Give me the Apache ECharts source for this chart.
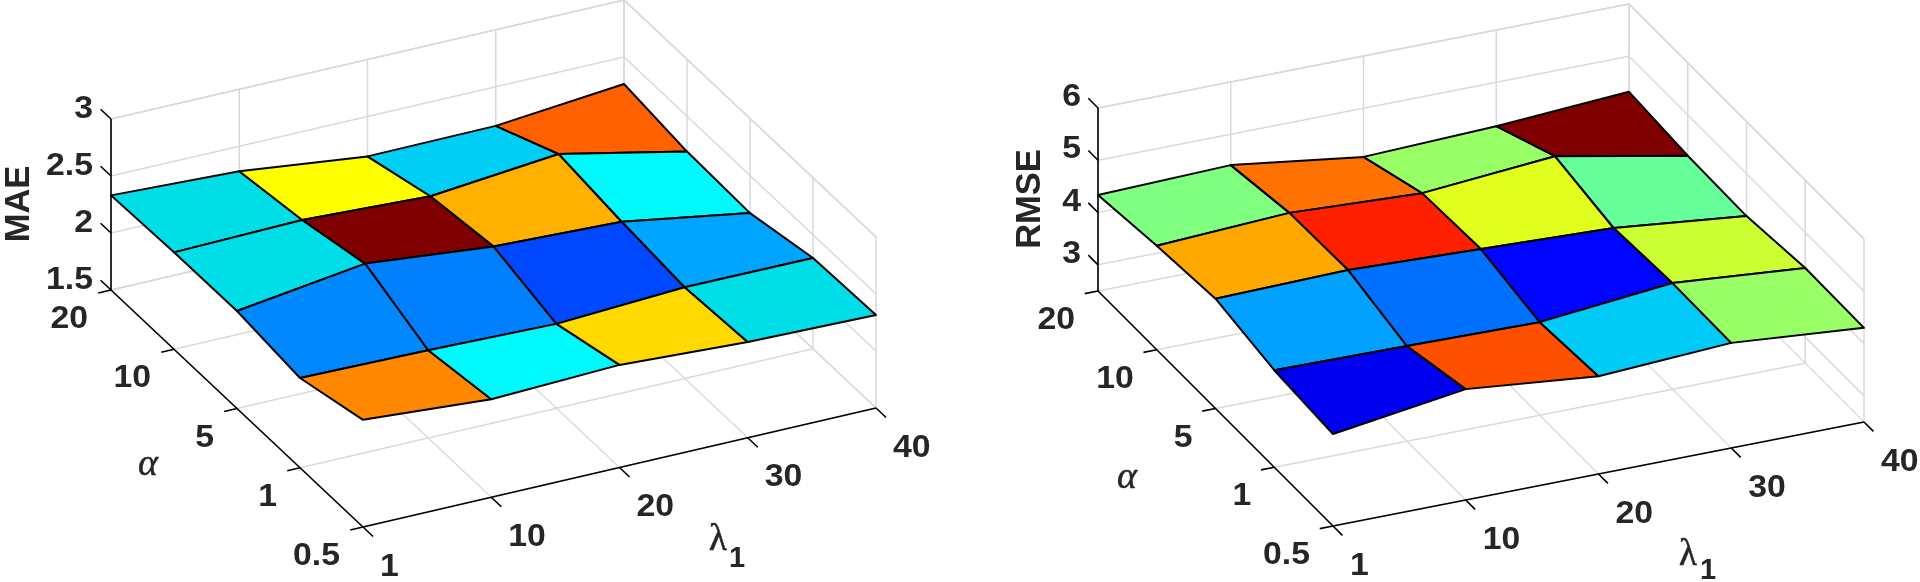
<!DOCTYPE html>
<html>
<head>
<meta charset="utf-8">
<style>html,body{margin:0;padding:0;background:#fff}#chart{width:1920px;height:582px}</style>
<script src="https://cdn.jsdelivr.net/npm/echarts@6/dist/echarts.min.js"></script>
</head>
<body>
<div id="chart"></div>
<script>
// ---- data ----
const lambdaTicks = ['1', '10', '20', '30', '40'];
const alphaTicks = ['0.5', '1', '5', '10', '20'];
const maeTicks = [1.5, 2, 2.5, 3];
const rmseTicks = [3, 4, 5, 6];

// surface heights: rows follow alphaTicks, columns follow lambdaTicks
const maeValues = [
  [2.44, 2.36, 2.40, 2.34, 2.316],
  [2.287, 2.27, 2.24, 2.30, 2.296],
  [2.355, 2.51, 2.40, 2.355, 2.17],
  [2.35, 2.373, 2.32, 2.43, 2.19],
  [2.33, 2.28, 2.15, 2.157, 2.263]
];
const rmseValues = [
  [4.26, 4.62, 4.37, 4.51, 4.30],
  [4.355, 4.32, 4.28, 4.53, 4.32],
  [4.60, 4.65, 4.555, 4.46, 4.19],
  [4.49, 4.62, 4.50, 4.71, 4.22],
  [4.336, 4.41, 4.07, 4.16, 4.32]
];
// colormap position (0..1) of each face, rows between neighbouring alpha ticks
const maeLevels = [
  [0.7425, 0.37, 0.6625, 0.345],
  [0.258, 0.25, 0.195, 0.287],
  [0.345, 1.0, 0.7025, 0.37],
  [0.345, 0.625, 0.328, 0.78]
];
const rmseLevels = [
  [0.11, 0.797, 0.325, 0.525],
  [0.2825, 0.235, 0.13, 0.575],
  [0.71, 0.844, 0.595, 0.475],
  [0.5, 0.765, 0.525, 1.0]
];

// ---- presentation ----
const jetStops = [
  [0, '#000080'], [0.125, '#0000ff'], [0.25, '#0080ff'], [0.3125, '#00bfff'], [0.345, '#00dfe8'],
  [0.375, '#00ffff'], [0.5, '#80ff80'], [0.625, '#ffff00'], [0.75, '#ff8000'], [0.875, '#ff0000'], [1, '#800000']
];
function faceColor(level) {
  for (let s = 1; s < jetStops.length; s++) {
    if (level <= jetStops[s][0]) {
      const a = jetStops[s - 1], b = jetStops[s];
      return echarts.color.lerp((level - a[0]) / (b[0] - a[0]), [a[1], b[1]]);
    }
  }
  return jetStops[jetStops.length - 1][1];
}
const INK = '#262626', GRID = '#d9d9d9';
const FONT = '"Liberation Sans", Arial, sans-serif';
const panels = [
  {
    name: 'MAE', values: maeValues, levels: maeLevels, zTicks: maeTicks, zMin: 1.5, zMax: 3,
    origin: [363, 527], lambdaStep: [128.25, -29.75], alphaStep: [-63, -59.25], zScale: 114,
    namePos: [19, 204], alphaPos: [148, 465], lambdaPos: [718, 540], subPos: [737, 559], zLabelX: -18, zLabelY: -10
  },
  {
    name: 'RMSE', values: rmseValues, levels: rmseLevels, zTicks: rmseTicks, zMin: 2.5, zMax: 6,
    origin: [1333, 526], lambdaStep: [132.75, -26], alphaStep: [-58.75, -58.75], zScale: 52.3,
    namePos: [1030, 199], alphaPos: [1127, 478], lambdaPos: [1688, 555], subPos: [1708, 571], zLabelX: -17, zLabelY: -10.5
  }
];

// parallel projection of (lambda index, alpha index, height) to the plane of the hidden axes
function project(p, i, j, z) {
  return [
    p.origin[0] + i * p.lambdaStep[0] + j * p.alphaStep[0],
    p.origin[1] + i * p.lambdaStep[1] + j * p.alphaStep[1] - (z - p.zMin) * p.zScale
  ];
}

function line(api, a, b, color, width) {
  const s = api.coord(a), e = api.coord(b);
  return {
    type: 'line',
    shape: { x1: s[0], y1: s[1], x2: e[0], y2: e[1] },
    style: { stroke: color, lineWidth: width, lineCap: 'butt', fill: null }
  };
}
function label(api, pos, text, font, align, extra) {
  const c = api.coord(pos);
  const opt = extra || {};
  return {
    type: 'text', x: c[0], y: c[1], rotation: opt.rotation || 0, scaleX: opt.scaleX || 1,
    style: {
      text: text, font: font, fill: INK, align: align || 'center', verticalAlign: 'middle',
      stroke: opt.stroke ? INK : null, lineWidth: opt.stroke || 0
    }
  };
}

function renderWalls(params, api) {
  const p = panels[api.value(0)];
  const kids = [], last = lambdaTicks.length - 1, lastA = alphaTicks.length - 1;
  for (let n = 0; n <= last; n++) {
    kids.push(line(api, project(p, n, lastA, p.zMin), project(p, n, lastA, p.zMax), GRID, 1.5));
    kids.push(line(api, project(p, n, 0, p.zMin), project(p, n, lastA, p.zMin), GRID, 1.3));
  }
  for (let n = 0; n <= lastA; n++) {
    kids.push(line(api, project(p, last, n, p.zMin), project(p, last, n, p.zMax), GRID, 1.5));
    kids.push(line(api, project(p, 0, n, p.zMin), project(p, last, n, p.zMin), GRID, 1.3));
  }
  p.zTicks.concat([p.zMax]).forEach(function (z) {
    kids.push(line(api, project(p, 0, lastA, z), project(p, last, lastA, z), GRID, 1.5));
    kids.push(line(api, project(p, last, 0, z), project(p, last, lastA, z), GRID, 1.5));
  });
  return { type: 'group', children: kids };
}

function renderFace(params, api) {
  const p = panels[api.value(0)], i = api.value(1), j = api.value(2);
  const v = p.values;
  const pts = [[i, j], [i + 1, j], [i + 1, j + 1], [i, j + 1]].map(function (q) {
    return api.coord(project(p, q[0], q[1], v[q[1]][q[0]]));
  });
  return {
    type: 'polygon',
    shape: { points: pts },
    style: { fill: faceColor(api.value(3)), stroke: '#000', lineWidth: 2, lineJoin: 'round' }
  };
}

function renderAxes(params, api) {
  const p = panels[api.value(0)];
  const kids = [], last = lambdaTicks.length - 1, lastA = alphaTicks.length - 1;
  const tickFont = 'bold 31px ' + FONT, tickOpt = { scaleX: 1.09 };
  const add = function (a, f, x) { return [a[0] + f[0] * x, a[1] + f[1] * x]; };
  // axis lines
  kids.push(line(api, project(p, 0, lastA, p.zMin), project(p, 0, lastA, p.zMax), '#000', 1.6));
  kids.push(line(api, project(p, 0, 0, p.zMin), project(p, 0, lastA, p.zMin), '#000', 1.6));
  kids.push(line(api, project(p, 0, 0, p.zMin), project(p, last, 0, p.zMin), '#000', 1.6));
  // lambda axis
  lambdaTicks.forEach(function (t, n) {
    const b = project(p, n, 0, p.zMin);
    kids.push(line(api, b, add(b, p.alphaStep, -0.16), '#000', 1.6));
    kids.push(label(api, [b[0] + 17, b[1] + 40], t, tickFont, 'left', tickOpt));
  });
  // alpha axis
  alphaTicks.forEach(function (t, n) {
    const b = project(p, 0, n, p.zMin);
    kids.push(line(api, b, add(b, p.lambdaStep, -0.1), '#000', 1.6));
    kids.push(label(api, [b[0] - 23, b[1] + 29.5], t, tickFont, 'right', tickOpt));
  });
  // height axis
  p.zTicks.forEach(function (z) {
    const b = project(p, 0, lastA, z);
    kids.push(line(api, b, add(b, p.alphaStep, 0.165), '#000', 1.6));
    kids.push(label(api, [b[0] + p.zLabelX, b[1] + p.zLabelY], String(z), tickFont, 'right', tickOpt));
  });
  // titles
  kids.push(label(api, p.namePos, p.name, 'bold 34.5px ' + FONT, 'center', { rotation: Math.PI / 2 }));
  kids.push(label(api, p.alphaPos, 'α', 'italic 38px "Liberation Serif", serif', 'center', { stroke: 0.5 }));
  kids.push(label(api, p.lambdaPos, 'λ', '37px "Liberation Serif", serif', 'center', { stroke: 0.6 }));
  kids.push(label(api, p.subPos, '1', 'bold 29px ' + FONT, 'center'));
  return { type: 'group', children: kids };
}

const panelRows = panels.map(function (p, k) { return [k]; });
const faceRows = [];
panels.forEach(function (p, k) {
  for (let j = p.levels.length - 1; j >= 0; j--) {
    p.levels[j].forEach(function (lv, i) { faceRows.push([k, i, j, lv]); });
  }
});

const chart = echarts.init(document.getElementById('chart'), null, { renderer: 'canvas' });
chart.setOption({
  animation: false,
  backgroundColor: '#ffffff',
  tooltip: { show: false },
  grid: { left: 0, right: 0, top: 0, bottom: 0 },
  xAxis: { type: 'value', min: 0, max: 1920, show: false },
  yAxis: { type: 'value', min: 0, max: 582, inverse: true, show: false },
  series: [
    { type: 'custom', silent: true, clip: false, renderItem: renderWalls, data: panelRows, z: 1 },
    { type: 'custom', silent: true, clip: false, renderItem: renderAxes, data: panelRows, z: 2 },
    { type: 'custom', silent: true, clip: false, renderItem: renderFace, data: faceRows, z: 3 }
  ]
});
</script>
</body>
</html>
